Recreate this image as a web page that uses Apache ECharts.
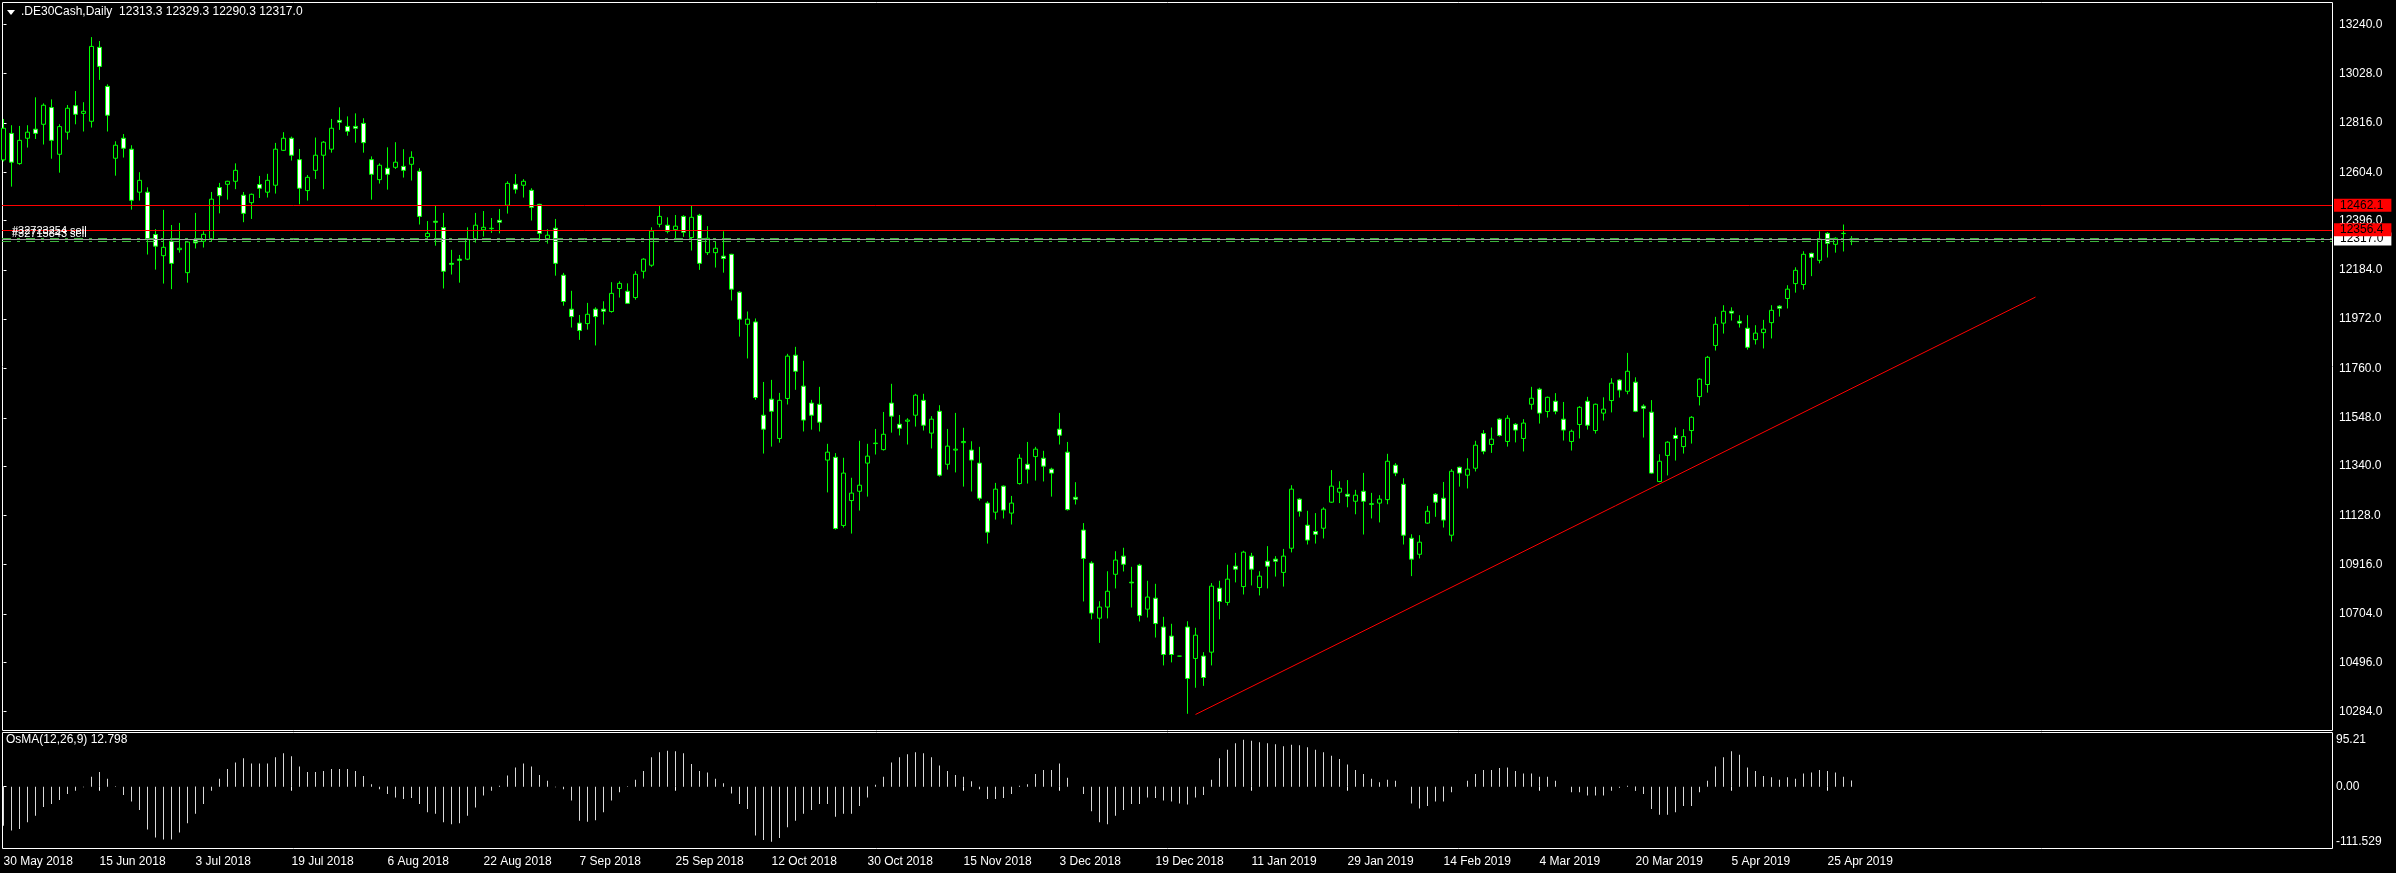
<!DOCTYPE html>
<html><head><meta charset="utf-8">
<script src="https://cdn.jsdelivr.net/npm/echarts/dist/echarts.min.js"></script>
<style>html,body{margin:0;padding:0;background:#000;}#chart{width:2396px;height:873px;}</style>
</head><body><div id="chart"></div>
<script>
const chartTitle = '.DE30Cash,Daily  12313.3 12329.3 12290.3 12317.0';
const oscTitle = 'OsMA(12,26,9) 12.798';

const opens = [12657,12771,12641,12750,12789,12810,12882,12681,12776,12890,
12857,12823,13141,12973,12664,12750,12703,12518,12518,12336,
12245,12307,12271,12172,12313,12307,12317,12538,12552,12565,
12505,12473,12551,12518,12548,12698,12750,12658,12525,12612,
12677,12703,12827,12801,12801,12814,12658,12572,12621,12625,
12629,12638,12608,12327,12393,12366,12212,12230,12230,12316,
12356,12361,12397,12462,12552,12548,12526,12466,12318,12363,
12161,12015,11955,11953,12015,12015,12005,12104,12092,12065,
12178,12204,12380,12376,12357,12414,12323,12419,12258,12258,
12243,12251,12088,11950,11960,11559,11628,11459,11631,11817,
11684,11611,11606,11366,11378,11085,11192,11232,11353,11437,
11411,11611,11520,11533,11559,11623,11482,11576,11348,11409,
11441,11409,11353,11181,11142,11254,11138,11265,11348,11381,
11374,11327,11499,11400,11206,11065,10923,10686,10734,10875,
10953,10841,10914,10725,10772,10648,10609,10523,10648,10513,
10523,10540,10815,10754,10910,10822,10953,10818,10931,10940,
10883,10987,11198,11086,11059,11073,11185,11228,11219,11189,
11232,11178,11181,11196,11344,11262,11030,10961,11095,11219,
11202,11043,11335,11301,11331,11480,11433,11542,11446,11520,
11459,11606,11671,11575,11619,11542,11446,11519,11619,11493,
11568,11622,11710,11662,11701,11598,11572,11274,11386,11472,
11424,11493,11639,11691,11859,11955,12006,11963,11933,11884,
11914,11957,12028,12061,12125,12121,12255,12225,12341,12294,
12340,12313.3];

const highs = [12833,12806,12803,12806,12926,12900,12917,12810,12893,12953,
12905,13185,13168,12982,12737,12768,12720,12604,12539,12359,
12442,12377,12386,12307,12429,12350,12519,12558,12567,12642,
12519,12512,12588,12597,12730,12776,12757,12704,12592,12753,
12738,12833,12883,12844,12857,12836,12672,12642,12711,12733,
12703,12694,12621,12394,12459,12429,12270,12248,12367,12429,
12437,12407,12446,12565,12596,12574,12535,12468,12359,12403,
12171,12094,11990,12042,12023,12049,12131,12135,12126,12178,
12234,12367,12459,12410,12420,12419,12459,12425,12372,12304,
12350,12253,12092,12005,11975,11702,11711,11655,11823,11853,
11793,11625,11681,11436,11396,11376,11290,11449,11436,11500,
11573,11694,11560,11546,11651,11651,11555,11602,11500,11569,
11505,11447,11423,11189,11268,11257,11212,11391,11444,11423,
11406,11333,11569,11444,11271,11095,10931,10759,10888,10974,
10989,10907,10920,10847,10834,10692,10662,10524,10673,10645,
10540,10837,10847,10916,10967,10976,10967,10888,10996,10953,
10984,11258,11202,11148,11138,11163,11323,11275,11280,11238,
11311,11225,11215,11393,11353,11288,11047,11043,11169,11224,
11272,11327,11338,11374,11449,11495,11506,11546,11559,11525,
11542,11681,11677,11639,11654,11616,11497,11598,11638,11609,
11636,11718,11714,11827,11722,11606,11624,11391,11447,11506,
11499,11555,11718,11814,11982,12032,12023,11989,11989,11946,
11969,12032,12032,12118,12195,12264,12258,12350,12346,12324,
12379,12329.3];

const lows = [12650,12542,12636,12710,12747,12723,12662,12602,12744,12810,
12779,12796,13001,12779,12589,12667,12443,12482,12250,12185,
12125,12101,12258,12129,12276,12280,12306,12427,12486,12531,
12389,12403,12493,12495,12512,12695,12654,12466,12482,12575,
12531,12688,12786,12761,12731,12688,12486,12555,12529,12618,
12581,12568,12379,12316,12288,12104,12164,12129,12226,12301,
12327,12343,12341,12426,12512,12495,12396,12308,12297,12159,
12030,11936,11883,11927,11859,11949,12000,12065,12038,12056,
12147,12197,12367,12341,12316,12326,12267,12184,12248,12194,
12172,12052,11897,11803,11625,11394,11424,11441,11605,11668,
11489,11497,11489,11227,11067,11076,11050,11149,11209,11390,
11407,11484,11472,11433,11510,11493,11416,11295,11325,11313,
11252,11231,11192,11007,11110,11115,11089,11261,11265,11278,
11274,11209,11433,11149,11175,10758,10681,10580,10685,10814,
10887,10732,10672,10689,10603,10483,10496,10522,10275,10387,
10395,10483,10681,10741,10840,10788,10827,10784,10814,10865,
10822,10969,11123,11003,11007,11029,11182,11181,11163,11133,
11046,11115,11098,11176,11297,11003,10867,10943,11092,11122,
11076,11016,11252,11244,11317,11391,11397,11467,11424,11442,
11403,11583,11523,11549,11563,11450,11407,11459,11497,11480,
11536,11571,11635,11649,11572,11463,11307,11271,11300,11364,
11394,11437,11601,11656,11837,11910,11966,11936,11841,11863,
11846,11889,11983,12018,12086,12099,12157,12212,12237,12258,
12263,12290.3];

const closes = [12793,12647,12741,12776,12771,12892,12741,12800,12879,12853,
12866,13145,13059,12849,12720,12707,12483,12569,12317,12286,
12281,12212,12277,12304,12300,12337,12488,12503,12565,12612,
12427,12509,12535,12569,12703,12750,12677,12535,12582,12677,
12733,12793,12819,12780,12793,12731,12595,12634,12595,12647,
12612,12668,12414,12341,12389,12178,12208,12225,12316,12376,
12367,12363,12389,12556,12531,12565,12453,12341,12333,12212,
12048,11983,11923,11993,11983,12006,12083,12126,12040,12165,
12230,12351,12414,12350,12372,12346,12410,12212,12320,12277,
12233,12101,11972,11972,11635,11499,11576,11623,11813,11748,
11538,11559,11529,11400,11072,11310,11224,11258,11383,11439,
11477,11555,11503,11538,11645,11516,11542,11301,11426,11413,
11446,11366,11202,11056,11241,11151,11181,11374,11327,11413,
11340,11310,11473,11153,11198,10943,10708,10734,10802,10936,
10918,10838,10698,10777,10663,10530,10530,10523,10427,10613,
10431,10824,10758,10854,10897,10970,10897,10867,10910,10931,
10953,11241,11146,11022,11047,11155,11254,11245,11211,11215,
11189,11176,11198,11361,11310,11043,10940,11013,11146,11185,
11108,11318,11310,11327,11430,11404,11456,11472,11546,11495,
11525,11632,11568,11636,11576,11495,11490,11593,11516,11606,
11585,11697,11667,11748,11576,11589,11310,11361,11443,11459,
11467,11550,11714,11808,11950,12006,11998,11955,11851,11912,
11929,12010,12019,12101,12182,12251,12238,12316,12298,12320,
12341,12317.0];

const osma = [-79,-89,-86,-72,-59,-41,-35,-27,-15,-8,
-1,20,30,16,1,-17,-30,-47,-87,-103,
-107,-107,-93,-74,-55,-35,-8,16,36,49,
58,47,47,47,60,68,62,41,30,30,
32,36,36,36,32,22,5,-5,-15,-22,
-25,-23,-35,-52,-55,-72,-76,-74,-59,-42,
-18,-8,2,23,39,47,41,24,12,-1,
-5,-28,-69,-71,-68,-52,-28,-11,1,14,
32,60,70,73,72,68,46,32,29,16,
7,-14,-35,-45,-99,-108,-111.529,-104,-82,-69,
-55,-47,-35,-35,-61,-55,-55,-39,-22,4,
20,49,60,66,70,68,60,43,32,24,
20,11,-5,-25,-25,-23,-15,2,5,26,
34,34,47,18,0,-15,-50,-72,-76,-59,
-47,-35,-35,-22,-23,-28,-30,-34,-36,-22,
-17,14,58,75,88,95.21,93,90,88,86,
82,85,84,80,75,70,63,56,45,34,
26,16,9,14,12,0,-34,-44,-39,-30,
-30,-11,0,12,26,34,34,38,39,32,
27,27,20,20,12,0,-11,-11,-18,-18,
-18,-8,-2,2,-7,-15,-45,-57,-57,-52,
-39,-39,-11,12,41,60,72,65,39,32,
22,19,14,19,16,27,29,34,32,29,
20,12.798];

const xTickIndex = [0,12,24,36,48,60,72,84,96,108,120,132,144,156,168,180,192,204,216,228];
const xTickLabels = ['30 May 2018','15 Jun 2018','3 Jul 2018','19 Jul 2018','6 Aug 2018','22 Aug 2018','7 Sep 2018','25 Sep 2018','12 Oct 2018','30 Oct 2018','15 Nov 2018','3 Dec 2018','19 Dec 2018','11 Jan 2019','29 Jan 2019','14 Feb 2019','4 Mar 2019','20 Mar 2019','5 Apr 2019','25 Apr 2019'];
const priceTicks = [10284,10496,10704,10916,11128,11340,11548,11760,11972,12184,12396,12604,12816,13028,13240];
const oscTicks = [-111.529,0,95.21];
const oscTickLabels = ['-111.529','0.00','95.21'];

const redLevels = [12462.1, 12356.4];
const bidLevel = 12317.0;
const orderLevels = [12318.5, 12307.0];
const orderNames = ['#32723254 sell', '#32715843 sell'];
const trendX = [149, 254];
const trendY = [10272, 12067];

const FONT = "'Liberation Sans', Arial, sans-serif";
const candles = opens.map((o, i) => [i, o, closes[i], lows[i], highs[i]]);
const oscData = osma.map((v, i) => [i, v]);

const XMIN = -0.1875, XMAX = 291.0625;

const markData = [];
orderLevels.forEach((lv, k) => markData.push({
  yAxis: lv,
  lineStyle: {color: '#3cb43c', type: [9, 6, 3, 6], width: 1},
  label: {show: true, position: 'insideStartTop', formatter: orderNames[k], color: '#ffffff',
          fontSize: 11, fontFamily: FONT, distance: [10, 2]}
}));
markData.push({
  yAxis: bidLevel,
  lineStyle: {color: '#a0a0a0', type: 'solid', width: 1},
  label: {show: true, position: 'end', distance: 2, formatter: bidLevel.toFixed(1), color: '#000',
          backgroundColor: '#ffffff', padding: [1, 8, 0, 6], lineHeight: 12, fontSize: 12, fontFamily: FONT}
});
redLevels.forEach(lv => markData.push({
  yAxis: lv,
  lineStyle: {color: '#ff0000', type: 'solid', width: 1},
  label: {show: true, position: 'end', distance: 2, formatter: lv.toFixed(1), color: '#000',
          backgroundColor: '#ff0000', padding: [1, 8, 0, 6], lineHeight: 12, fontSize: 12, fontFamily: FONT}
}));

const chart = echarts.init(document.getElementById('chart'), null, {renderer: 'canvas'});
chart.setOption({
  backgroundColor: '#000000',
  animation: false,
  textStyle: {fontFamily: FONT},
  grid: [
    {left: 2, top: 2, width: 2330, height: 728},
    {left: 2, top: 732, width: 2330, height: 116}
  ],
  xAxis: [
    {type: 'value', gridIndex: 0, min: XMIN, max: XMAX, show: false},
    {type: 'value', gridIndex: 1, min: XMIN, max: XMAX,
     axisLine: {show: false}, splitLine: {show: false},
     axisTick: {show: true, customValues: xTickIndex, length: 4, lineStyle: {color: '#ffffff'}},
     axisLabel: {show: true, customValues: xTickIndex, color: '#ffffff', fontSize: 12, fontFamily: FONT,
                 align: 'left', margin: 8,
                 formatter: v => { const k = xTickIndex.indexOf(Math.round(v)); return k >= 0 ? xTickLabels[k] : ''; }}}
  ],
  yAxis: [
    {type: 'value', gridIndex: 0, position: 'right', min: 10205.3, max: 13335.9,
     axisLine: {show: false}, splitLine: {show: false},
     axisTick: {show: true, customValues: priceTicks, length: 3, lineStyle: {color: '#ffffff'}},
     axisLabel: {show: true, customValues: priceTicks, color: '#ffffff', fontSize: 12, fontFamily: FONT, margin: 7,
                 formatter: v => Number(v).toFixed(1)}},
    {type: 'value', gridIndex: 1, position: 'right', min: -124.3, max: 111,
     axisLine: {show: false}, splitLine: {show: false},
     axisTick: {show: true, customValues: [0], length: 3, lineStyle: {color: '#ffffff'}},
     axisLabel: {show: true, customValues: oscTicks, color: '#ffffff', fontSize: 12, fontFamily: FONT, margin: 4,
                 formatter: v => { const k = oscTicks.indexOf(v); return k >= 0 ? oscTickLabels[k] : String(v); }}}
  ],
  graphic: [
    {type: 'rect', silent: true, z: 0, shape: {x: 2.5, y: 2.5, width: 2330, height: 728},
     style: {fill: null, stroke: '#ffffff', lineWidth: 1}},
    {type: 'rect', silent: true, z: 0, shape: {x: 2.5, y: 732.5, width: 2330, height: 116},
     style: {fill: null, stroke: '#ffffff', lineWidth: 1}},
    {type: 'polygon', silent: true, z: 10, shape: {points: [[7, 10], [15, 10], [11, 15]]}, style: {fill: '#ffffff'}},
    {type: 'text', silent: true, z: 10, left: 21, top: 6,
     style: {text: chartTitle, fill: '#ffffff', fontSize: 12, fontFamily: FONT}},
    {type: 'text', silent: true, z: 10, left: 6, top: 734,
     style: {text: oscTitle, fill: '#ffffff', fontSize: 12, fontFamily: FONT}}
  ],
  series: [
    {type: 'line', xAxisIndex: 0, yAxisIndex: 0, data: trendX.map((x, i) => [x, trendY[i]]),
     symbol: 'none', lineStyle: {color: '#ff0000', width: 1}, z: 1, silent: true},
    {type: 'candlestick', xAxisIndex: 0, yAxisIndex: 0, data: candles,
     encode: {x: 0, y: [1, 2, 3, 4]}, barWidth: 4, z: 3,
     itemStyle: {color: '#000000', color0: '#ffffff', borderColor: '#00ff00', borderColor0: '#00ff00',
                 borderColorDoji: '#00ff00', borderWidth: 1},
     markLine: {symbol: ['none', 'none'], silent: true, animation: false, precision: 1, data: markData}},
    {type: 'bar', xAxisIndex: 1, yAxisIndex: 1, data: oscData, barWidth: 1,
     itemStyle: {color: '#d8d8d8'}, silent: true}
  ]
});
</script>
</body></html>
